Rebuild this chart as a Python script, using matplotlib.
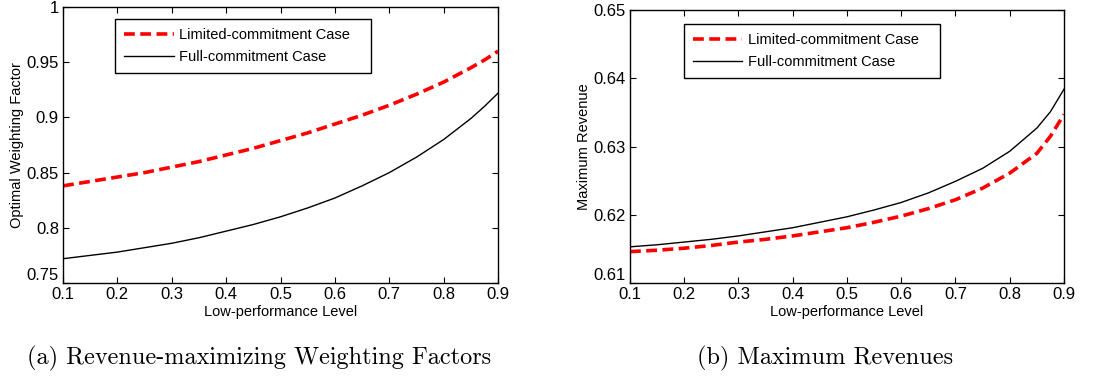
import numpy as np
import matplotlib.pyplot as plt

# low-performance level
level = [0.1, 0.15, 0.2, 0.25, 0.3, 0.35, 0.4, 0.45, 0.5, 0.55,
         0.6, 0.65, 0.7, 0.75, 0.8, 0.85, 0.875, 0.9]

# (a) optimal weighting factor
w_limited = [0.838, 0.842, 0.846, 0.850, 0.855, 0.860, 0.866, 0.872, 0.879,
             0.886, 0.894, 0.902, 0.911, 0.921, 0.932, 0.945, 0.952, 0.960]
w_full = [0.772, 0.775, 0.778, 0.782, 0.786, 0.791, 0.797, 0.803, 0.810,
          0.818, 0.827, 0.838, 0.850, 0.864, 0.880, 0.899, 0.910, 0.922]

# (b) maximum revenue
r_limited = [0.6146, 0.6148, 0.6151, 0.6155, 0.6160, 0.6164, 0.6169, 0.6175,
             0.6181, 0.6189, 0.6198, 0.6209, 0.6222, 0.6239, 0.6261, 0.6290,
             0.6315, 0.6347]
r_full = [0.6153, 0.6156, 0.6160, 0.6164, 0.6169, 0.6175, 0.6181, 0.6189,
          0.6197, 0.6207, 0.6218, 0.6232, 0.6249, 0.6268, 0.6293, 0.6327,
          0.6351, 0.6384]

xticks = [0.1, 0.2, 0.3, 0.4, 0.5, 0.6, 0.7, 0.8, 0.9]

plt.rcParams['font.family'] = ['Liberation Sans', 'DejaVu Sans']

fig = plt.figure(figsize=(11.16, 3.79), dpi=100)
ax1 = fig.add_axes([0.0565, 0.2533, 0.3898, 0.7282])
ax2 = fig.add_axes([0.5645, 0.2533, 0.3889, 0.7203])


def style(ax, yticks, ylabel, legend_anchor):
    ax.set_xlim(0.1, 0.9)
    ax.set_xticks(xticks)
    ax.set_xticklabels([f"{v:g}" for v in xticks])
    ax.set_ylim(yticks[0], yticks[-1])
    ax.set_yticks(yticks)
    ax.set_yticklabels([f"{v:g}" for v in yticks])
    ax.tick_params(direction='in', top=True, right=True, labelsize=12,
                   length=4, width=0.8, pad=3)
    # bottom y label sits just above the corner, like MATLAB
    ax.get_yticklabels()[0].set_verticalalignment('bottom')
    ax.set_xlabel("Low-performance Level", fontsize=10.5, labelpad=2)
    ax.set_ylabel(ylabel, fontsize=10.5, labelpad=2)
    for s in ax.spines.values():
        s.set_linewidth(1.0)
    leg = ax.legend(loc='upper left', bbox_to_anchor=legend_anchor, fontsize=10.5,
                    fancybox=False, framealpha=1, edgecolor='black',
                    handlelength=3.4, borderpad=0.6, labelspacing=0.6,
                    handletextpad=0.4, borderaxespad=0)
    leg.get_frame().set_linewidth(1.0)


ax1.plot(level, w_limited, color='red', linestyle='--', linewidth=2.6,
         dashes=(3, 1.5), label='Limited-commitment Case   ')
ax1.plot(level, w_full, color='black', linewidth=1.0, label='Full-commitment Case')
style(ax1, [0.75, 0.8, 0.85, 0.9, 0.95, 1.0], "Optimal Weighting Factor", (0.12, 0.957))

ax2.plot(level, r_limited, color='red', linestyle='--', linewidth=2.6,
         dashes=(3, 1.5), label='Limited-commitment Case   ')
ax2.plot(level, r_full, color='black', linewidth=1.0, label='Full-commitment Case')
style(ax2, [0.61, 0.62, 0.63, 0.64, 0.65], "Maximum Revenue", (0.124, 0.949))

fig.text(0.232, 0.055, "(a) Revenue-maximizing Weighting Factors",
         family='cmr10', fontsize=17.5, ha='center', va='center')
fig.text(0.739, 0.055, "(b) Maximum Revenues",
         family='cmr10', fontsize=17.5, ha='center', va='center')

fig.savefig("out.png", dpi=100)
